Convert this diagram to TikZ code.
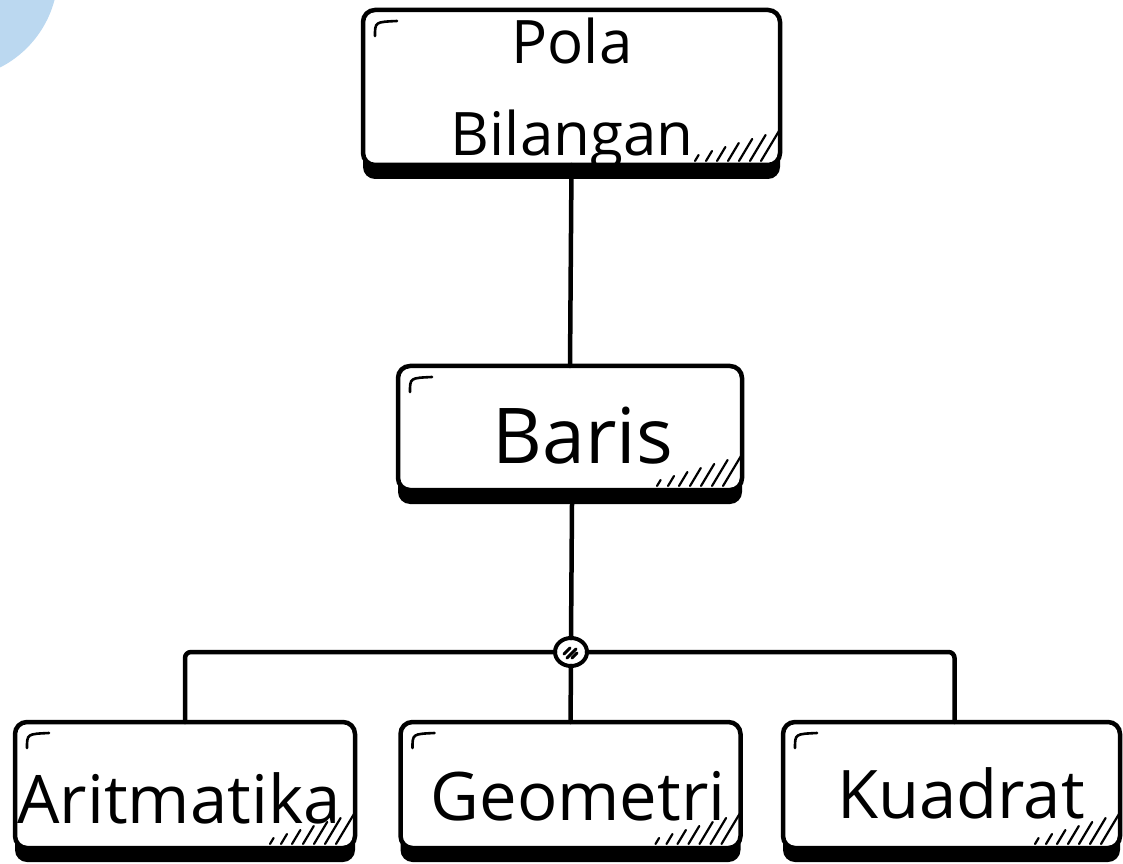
\documentclass[tikz,border=0pt]{standalone}
\usepackage{fontspec}
\setmainfont{Open Sans}
\usetikzlibrary{calc,shapes.geometric}
\definecolor{blob}{HTML}{BBD8F0}
\tikzset{
 sketchbox/.style={draw=black, line width=4.5pt, rounded corners=12pt, fill=white,
   inner sep=0pt, outer sep=0pt,
   preaction={fill=black, transform canvas={yshift=-14pt}}},
 conn/.style={line width=4.5pt, line cap=round, rounded corners=6pt},
 lbl/.style={inner sep=0pt, anchor=base},
 ticky/.style={line width=2.6pt, line cap=round},
 hatchy/.style={line width=2.2pt, line cap=round},
}
\newcommand{\boxdeco}[1]{%
  \draw[ticky] ($(#1.north west)+(12,-26)$) .. controls ($(#1.north west)+(12,-12)$) .. ($(#1.north west)+(34,-11)$);
  \foreach \i in {0,...,6}{
    \draw[hatchy] ($(#1.south east)+(-85+\i*11,4)$) -- ++({0.6*(6+4*\i)},{6+4*\i});
  }%
}
\begin{document}
\begin{tikzpicture}[x=1pt,y=1pt]
\useasboundingbox (0,0) rectangle (1123,863);
\fill[blob] (-48,890) circle (106);

\node[sketchbox, minimum width=417pt, minimum height=155pt] (top) at (571.5,775.5) {};
\node[sketchbox, minimum width=344pt, minimum height=124pt] (baris) at (570,435) {};
\node[sketchbox, minimum width=340pt, minimum height=126pt] (arit) at (185,78) {};
\node[sketchbox, minimum width=340pt, minimum height=126pt] (geo) at (570.5,78) {};
\node[sketchbox, minimum width=337pt, minimum height=126pt] (kuad) at (951.5,78) {};

\boxdeco{top}
\boxdeco{baris}
\boxdeco{arit}
\boxdeco{geo}
\boxdeco{kuad}

\draw[conn] (top.south) -- (baris.north);
\node[draw=black, fill=white, line width=4pt, ellipse, minimum width=32pt, minimum height=28pt, inner sep=0pt, outer sep=0pt] (junc) at (571,211) {};
\draw[hatchy, line width=3pt] ($(junc.center)+(-7,-2)$) -- ++(6,6);
\draw[hatchy, line width=3pt] ($(junc.center)+(-4,-6)$) -- ++(9,9);
\draw[hatchy, line width=3pt] ($(junc.center)+(1,-6)$) -- ++(5,5);

\draw[conn] ($(baris.south)+(2,-14)$) -- (junc.north);
\draw[conn] (junc.west) -| (arit.north);
\draw[conn] (junc.east) -| ($(kuad.north)+(3,0)$);
\draw[conn] (junc.south) -- (geo.north);

\node[inner sep=0pt, align=center, font=\fontsize{60}{92}\selectfont] (tpola) at (572,769) {Pola\\Bilangan};
\node[lbl, font=\fontsize{77}{80}\selectfont] (tbaris) at (583,400) {Baris};
\node[lbl, font=\fontsize{67}{70}\selectfont] (tarit) at (179,40) {Aritmatika};
\node[lbl, font=\fontsize{67}{70}\selectfont] (tgeo) at (578,43) {Geometri};
\node[lbl, font=\fontsize{67}{70}\selectfont] (tkuad) at (961,45) {Kuadrat};
\end{tikzpicture}
\end{document}
